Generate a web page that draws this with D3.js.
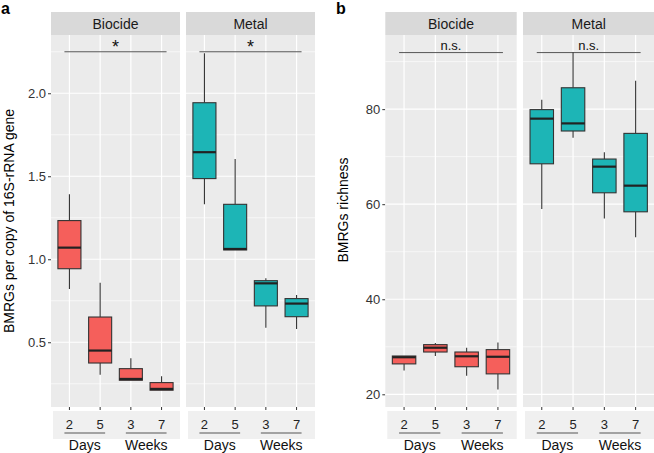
<!DOCTYPE html>
<html><head><meta charset="utf-8">
<script src="https://cdn.jsdelivr.net/npm/d3@7"></script>
<style>body{margin:0;background:#fff}svg{display:block;font-family:"Liberation Sans",Arial,sans-serif}</style>
</head><body><svg id="c" width="654" height="453"></svg>
<script>
// ---- data ----
const categories = ["2","5","3","7"];
const unitLabels = ["Days","Weeks"];
const groups = ["Biocide","Metal"];
const groupColors = ["#F55F5B","#1DB5B6"];
// [lower whisker, q1, median, q3, upper whisker]
const aBiocide = [[0.821,0.943,1.07,1.233,1.392],[0.305,0.375,0.45,0.652,0.859],[0.271,0.271,0.279,0.341,0.403],[0.211,0.211,0.219,0.257,0.295]];
const aMetal   = [[1.331,1.486,1.645,1.943,2.241],[1.056,1.056,1.062,1.331,1.604],[0.588,0.719,0.855,0.871,0.886],[0.58,0.654,0.733,0.763,0.785]];
const bBiocide = [[25.0,26.4,27.8,28.06,28.06],[28.06,28.9,29.8,30.45,30.8],[23.9,25.8,28.0,28.9,29.8],[21.0,24.3,27.9,29.4,30.9]];
const bMetal   = [[59.0,68.5,78.0,79.9,81.96],[74.0,75.4,77.0,84.5,92.0],[57.0,62.4,67.9,69.5,70.95],[53.05,58.4,63.9,74.9,86.0]];
const aSig = ["*","*"];
const bSig = ["n.s.","n.s."];
const aTicks = [0.5,1.0,1.5,2.0];
const aMinor = [0.25,0.75,1.25,1.75,2.25];
const bTicks = [20,40,60,80];
const bMinor = [30,50,70,90];

const svg = d3.select("#c");

function panel(cfg){
  const g = svg.append("g");
  const y = d3.scaleLinear().domain(cfg.domain).range([407,35]);
  // label
  g.append("text").attr("x",cfg.labelX).attr("y",14).attr("font-size",16).attr("font-weight","bold").text(cfg.label);
  // y title
  g.append("text").attr("transform",`translate(${cfg.titleX},${cfg.titleY}) rotate(-90)`)
    .attr("text-anchor","middle").attr("font-size",14).attr("fill","#000").text(cfg.title);
  // y axis
  const ax = g.append("g").attr("transform",`translate(${cfg.panels[0][0]},0)`)
    .call(d3.axisLeft(y).tickValues(cfg.ticks).tickSize(3).tickPadding(2).tickFormat(cfg.fmt));
  ax.select(".domain").remove();
  ax.selectAll("line").attr("stroke","#333");
  ax.selectAll("text").attr("font-size",13).attr("fill","#333").attr("font-family","Liberation Sans, Arial, sans-serif");

  groups.forEach((grp,gi)=>{
    const [x0,x1] = cfg.panels[gi];
    const x = d3.scalePoint().domain(categories).range([x0,x1]).padding(0.6);
    const step = x.step();
    const pg = g.append("g");
    // strip
    pg.append("rect").attr("x",x0).attr("y",12).attr("width",x1-x0).attr("height",23).attr("fill","#D9D9D9");
    pg.append("text").attr("x",(x0+x1)/2).attr("y",28.5).attr("text-anchor","middle").attr("font-size",14).attr("fill","#1a1a1a").text(grp);
    // panel bg
    pg.append("rect").attr("x",x0).attr("y",35).attr("width",x1-x0).attr("height",372).attr("fill","#EBEBEB");
    // grid
    pg.selectAll(".mn").data(cfg.minor.filter(v=>y(v)>35&&y(v)<407)).enter().append("line")
      .attr("x1",x0).attr("x2",x1).attr("y1",d=>y(d)).attr("y2",d=>y(d)).attr("stroke","#fff").attr("stroke-width",0.6);
    pg.selectAll(".mj").data(cfg.ticks).enter().append("line")
      .attr("x1",x0).attr("x2",x1).attr("y1",d=>y(d)).attr("y2",d=>y(d)).attr("stroke","#fff").attr("stroke-width",1.2);
    pg.selectAll(".vx").data(categories).enter().append("line")
      .attr("x1",d=>x(d)).attr("x2",d=>x(d)).attr("y1",35).attr("y2",407).attr("stroke","#fff").attr("stroke-width",1.2);
    // boxes
    const data = cfg.data[gi];
    const bw = step*0.75;
    const col = groupColors[gi];
    data.forEach((s,i)=>{
      const cx = x(categories[i]);
      pg.append("line").attr("x1",cx).attr("x2",cx).attr("y1",y(s[4])).attr("y2",y(s[3])).attr("stroke","#333").attr("stroke-width",1.1);
      pg.append("line").attr("x1",cx).attr("x2",cx).attr("y1",y(s[1])).attr("y2",y(s[0])).attr("stroke","#333").attr("stroke-width",1.1);
      pg.append("rect").attr("x",cx-bw/2).attr("y",y(s[3])).attr("width",bw).attr("height",Math.max(0.01,y(s[1])-y(s[3])))
        .attr("fill",col).attr("stroke","#333").attr("stroke-width",1.1);
      pg.append("line").attr("x1",cx-bw/2).attr("x2",cx+bw/2).attr("y1",y(s[2])).attr("y2",y(s[2])).attr("stroke","#222").attr("stroke-width",2.2);
    });
    // significance
    const sy = y(cfg.sigY);
    pg.append("line").attr("x1",x(categories[0])-5).attr("x2",x(categories[3])+5).attr("y1",sy).attr("y2",sy).attr("stroke","#444").attr("stroke-width",0.9);
    const sg = cfg.sig[gi];
    pg.append("text").attr("x",(x(categories[0])+x(categories[3]))/2).attr("y",sg==="*"?sy+1:sy-3)
      .attr("text-anchor","middle").attr("font-size",sg==="*"?18:13).attr("fill","#111").text(sg);
    // x ticks
    pg.selectAll(".xt").data(categories).enter().append("line")
      .attr("x1",d=>x(d)).attr("x2",d=>x(d)).attr("y1",407).attr("y2",410).attr("stroke","#333");
    // lower strip
    pg.append("rect").attr("x",x0+2).attr("y",411).attr("width",x1-x0-2).attr("height",28).attr("fill","#F0F0F0");
    pg.selectAll(".xl").data(categories).enter().append("text")
      .attr("x",d=>x(d)).attr("y",429).attr("text-anchor","middle").attr("font-size",13).attr("fill","#222").text(d=>d);
    unitLabels.forEach((u,ui)=>{
      const a = x(categories[ui*2]), b = x(categories[ui*2+1]);
      pg.append("line").attr("x1",a-5).attr("x2",b+5).attr("y1",433).attr("y2",433).attr("stroke","#555").attr("stroke-width",1);
      pg.append("text").attr("x",(a+b)/2).attr("y",450).attr("text-anchor","middle").attr("font-size",14).attr("fill","#111").text(u);
    });
  });
}

panel({label:"a",labelX:1,title:"BMRGs per copy of 16S-rRNA gene",titleX:14,titleY:221,
  domain:[0.11,2.351],ticks:aTicks,minor:aMinor,fmt:d3.format(".1f"),
  panels:[[51,180],[186,315]],data:[aBiocide,aMetal],sig:aSig,sigY:2.25});
panel({label:"b",labelX:336,title:"BMRGs richness",titleX:348,titleY:210,
  domain:[17.33,95.6],ticks:bTicks,minor:bMinor,fmt:d3.format("d"),
  panels:[[385.3,516.7],[523,654.4]],data:[bBiocide,bMetal],sig:bSig,sigY:91.9});
</script></body></html>
